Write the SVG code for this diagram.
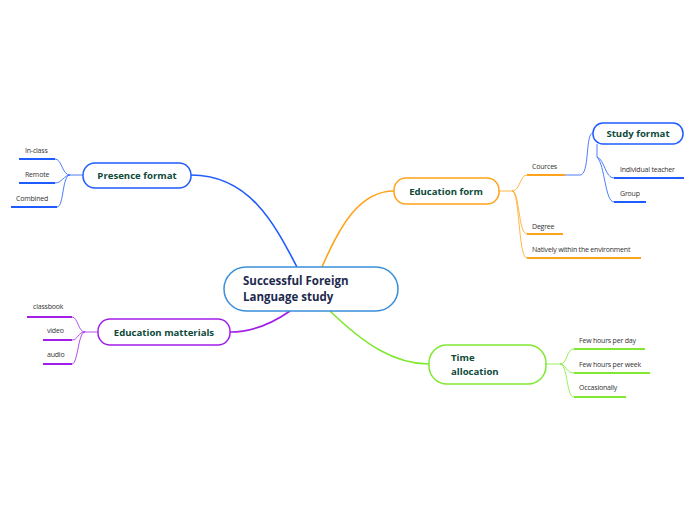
<svg xmlns="http://www.w3.org/2000/svg" width="696" height="520" viewBox="0 0 696 520">
<style>
.bg{fill:#ffffff}
.node{fill:#ffffff;stroke-width:1.5}
.main{font-family:"Open Sans","Noto Sans",sans-serif;font-weight:bold;font-size:9.6px;fill:#0d4a3a}
.center{font-family:"Open Sans","Noto Sans",sans-serif;font-weight:bold;font-size:11.5px;fill:#1e2a4d}
.sub{font-family:"Open Sans","Noto Sans",sans-serif;font-size:7px;fill:#333333;letter-spacing:-0.2px}
.c{fill:none}
.thick{stroke-width:1.6}
.thin{stroke-width:0.8}
.ul{stroke-width:2}
.blue{stroke:#1f5cff}
.orange{stroke:#ffa31a}
.green{stroke:#80e830}
.purple{stroke:#a21fe8}
</style>
<rect class="bg" x="0" y="0" width="696" height="520"/>
<g id="connectors">
<path class="c thick blue" d="M191,175 C250,175 275,225 297,267"/>
<path class="c thick orange" d="M394,191 C360,191 340,225 322,267"/>
<path class="c thick green" d="M330,311 C365,345 395,364 429,364"/>
<path class="c thick purple" d="M290,311 C270,325 250,332 230,332"/>
<path class="c thin blue" d="M83,175 L70,175 C62,175 62,159 55,159 M70,175 C64,175 62,183 55,183 M70,175 C62,175 64,207 57,207"/>
<path class="c thin orange" d="M499,191 L512,191 C520,191 520,175 527,175 M512,191 C520,191 518,234 527,234 M512,191 C520,191 518,258 527,258"/>
<path class="c thin blue" d="M565,175 L580,175 C590,175 585,133 593,133"/>
<path class="c thin blue" d="M597,144 L597,157 C605,160 605,178 614,178 M597,157 C605,165 605,202 614,202"/>
<path class="c thin green" d="M546,364 L560,364 C568,364 566,349 574,349 M560,364 C566,364 566,373 574,373 M560,364 C568,364 566,397 574,397"/>
<path class="c thin purple" d="M98,332 L85,332 C78,332 78,317 72,317 M85,332 C78,332 78,340 72,340 M85,332 C78,332 78,364 72,364"/>
</g>
<g id="center">
<rect class="node" x="224" y="267" width="174" height="44" rx="22" stroke="#3a8fd9"/>
<text class="center" x="243" y="285">Successful Foreign</text>
<text class="center" x="243" y="301">Language study</text>
</g>
<g id="presence">
<rect class="node blue" x="83" y="163" width="108" height="25" rx="12"/>
<text class="main" x="137" y="179" text-anchor="middle">Presence format</text>
</g>
<g id="inclass"><text class="sub" x="25" y="153">In-class</text><line class="ul blue" x1="19" y1="159" x2="55" y2="159"/></g>
<g id="remote"><text class="sub" x="25" y="177">Remote</text><line class="ul blue" x1="19" y1="183" x2="55" y2="183"/></g>
<g id="combined"><text class="sub" x="16" y="201">Combined</text><line class="ul blue" x1="11" y1="207" x2="57" y2="207"/></g>
<g id="eduform">
<rect class="node orange" x="394" y="178" width="105" height="26" rx="12"/>
<text class="main" x="446" y="195" text-anchor="middle">Education form</text>
</g>
<g id="cources"><text class="sub" x="532" y="169">Cources</text><line class="ul orange" x1="527" y1="175" x2="565" y2="175"/></g>
<g id="studyformat">
<rect class="node blue" x="593" y="123" width="90" height="21" rx="10"/>
<text class="main" x="638" y="137" text-anchor="middle">Study format</text>
</g>
<g id="indiv"><text class="sub" x="620" y="172">Individual teacher</text><line class="ul blue" x1="614" y1="178" x2="684" y2="178"/></g>
<g id="group"><text class="sub" x="620" y="196">Group</text><line class="ul blue" x1="614" y1="202" x2="646" y2="202"/></g>
<g id="degree"><text class="sub" x="532" y="229">Degree</text><line class="ul orange" x1="527" y1="234" x2="563" y2="234"/></g>
<g id="natively"><text class="sub" x="532" y="252">Natively within the environment</text><line class="ul orange" x1="527" y1="258" x2="641" y2="258"/></g>
<g id="time">
<rect class="node green" x="429" y="345" width="117" height="39" rx="18"/>
<text class="main" x="451" y="361">Time</text>
<text class="main" x="451" y="375">allocation</text>
</g>
<g id="perday"><text class="sub" x="579" y="343">Few hours per day</text><line class="ul green" x1="574" y1="349" x2="645" y2="349"/></g>
<g id="perweek"><text class="sub" x="579" y="367">Few hours per week</text><line class="ul green" x1="574" y1="373" x2="650" y2="373"/></g>
<g id="occasionally"><text class="sub" x="579" y="390">Occasionally</text><line class="ul green" x1="574" y1="397" x2="626" y2="397"/></g>
<g id="materials">
<rect class="node purple" x="98" y="319" width="132" height="26" rx="12"/>
<text class="main" x="164" y="336" text-anchor="middle">Education matterials</text>
</g>
<g id="classbook"><text class="sub" x="33" y="309">classbook</text><line class="ul purple" x1="27" y1="317" x2="72" y2="317"/></g>
<g id="video"><text class="sub" x="47" y="333">video</text><line class="ul purple" x1="43" y1="340" x2="72" y2="340"/></g>
<g id="audio"><text class="sub" x="47" y="357">audio</text><line class="ul purple" x1="43" y1="364" x2="72" y2="364"/></g>
</svg>
